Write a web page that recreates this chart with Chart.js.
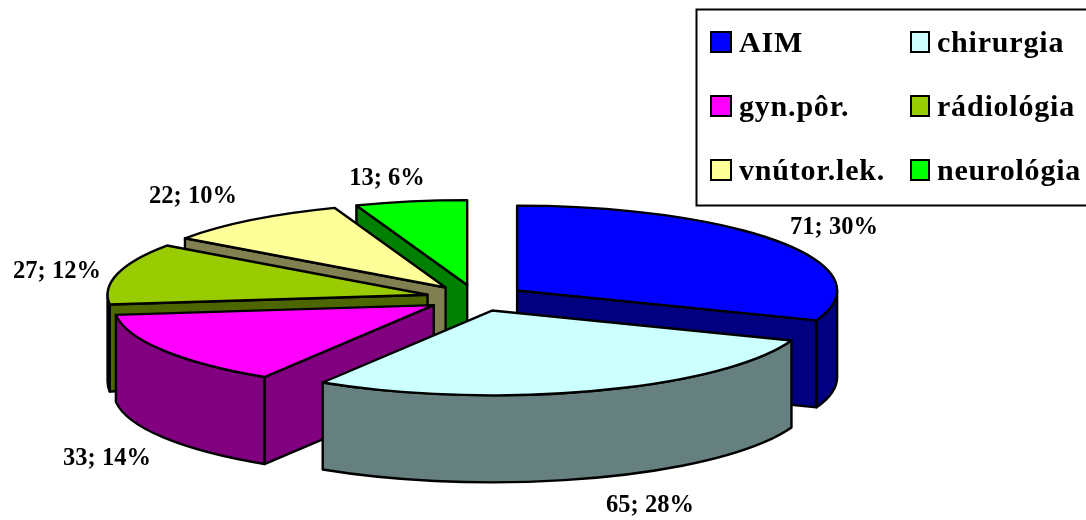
<!DOCTYPE html>
<html>
<head>
<meta charset="utf-8">
<style>html,body{margin:0;padding:0;background:#fff}#w{width:1086px;height:520px;position:relative}</style>
<script src="https://cdn.jsdelivr.net/npm/chart.js@4"></script>
</head>
<body>
<div id="w"><canvas id="c" width="1086" height="520"></canvas></div>
<script>
const categories = ["AIM", "chirurgia", "gyn.pôr.", "rádiológia", "vnútor.lek.", "neurológia"];
const counts = [71, 65, 33, 27, 22, 13];
const percents = [30, 28, 14, 12, 10, 6];
const topColors = ["#0000FF", "#CCFFFF", "#FF00FF", "#99CC00", "#FFFF99", "#00FF00"];
const wallColors = ["#000080", "#668080", "#800080", "#4D6600", "#808050", "#008000"];

// Layout of the fake 3D pie and its annotations
const TILT = 0.265, DEPTH = 87, EXPLODE = 50, RADIUS = 320;
const LABEL_FONT = "bold 24.5px 'Liberation Serif'";
const LEGEND_FONT = "bold 30px 'Liberation Serif'";
const labelAnchors = [[834,234],[650,512],[107,465],[57,278],[193,203],[387,185]];
const legendBox = {x:696.5, y:9.5, w:395, h:196};
const legendCols = [{sw:711, swW:20, tx:739},{sw:911, swW:18, tx:937}];
const legendRows = [42, 106, 170];
const legendBaselines = [52, 116, 180];

const pie3d = {
  id: 'pie3d',
  beforeDatasetsDraw(chart) {
    const ctx = chart.ctx;
    const arcs = chart.getDatasetMeta(0).data.map((arc, i) => {
      const m = (arc.startAngle + arc.endAngle) / 2;
      return {arc, i, m, ax: arc.x + EXPLODE * Math.cos(m), ay: arc.y + EXPLODE * TILT * Math.sin(m)};
    }).sort((a, b) => Math.sin(a.m) - Math.sin(b.m));
    ctx.save();
    ctx.lineJoin = 'round';
    ctx.lineWidth = 2.4;
    ctx.strokeStyle = '#000';
    for (const s of arcs) {
      const {arc, i, ax, ay} = s;
      const a0 = arc.startAngle, a1 = arc.endAngle, R = arc.outerRadius, ry = R * TILT;
      const pt = t => [ax + R * Math.cos(t), ay + ry * Math.sin(t)];
      ctx.fillStyle = wallColors[i];
      const quad = t => {
        const [px, py] = pt(t);
        ctx.beginPath();
        ctx.moveTo(ax, ay); ctx.lineTo(px, py); ctx.lineTo(px, py + DEPTH); ctx.lineTo(ax, ay + DEPTH);
        ctx.closePath(); ctx.fill(); ctx.stroke();
      };
      if (-Math.cos(a0) > 0) quad(a0);
      if (Math.cos(a1) > 0) quad(a1);
      const w0 = Math.max(a0, 0), w1 = Math.min(a1, Math.PI);
      if (w1 > w0) {
        ctx.beginPath();
        ctx.ellipse(ax, ay, R, ry, 0, w0, w1, false);
        ctx.ellipse(ax, ay + DEPTH, R, ry, 0, w1, w0, true);
        ctx.closePath(); ctx.fill(); ctx.stroke();
      }
      // top face, drawn by the library's arc element through a squashing transform
      ctx.save();
      ctx.translate(ax, ay); ctx.scale(1, TILT); ctx.translate(-arc.x, -arc.y);
      arc.draw(ctx);
      ctx.beginPath();
      ctx.moveTo(arc.x, arc.y);
      ctx.arc(arc.x, arc.y, R, a0, a1, false);
      ctx.closePath();
      ctx.restore();
      ctx.stroke();
    }
    ctx.restore();
    return false;
  },
  afterDraw(chart) {
    const ctx = chart.ctx;
    ctx.save();
    ctx.fillStyle = '#000';
    ctx.textBaseline = 'alphabetic';
    ctx.textAlign = 'center';
    ctx.font = LABEL_FONT;
    counts.forEach((v, i) => ctx.fillText(v + '; ' + percents[i] + '%', labelAnchors[i][0], labelAnchors[i][1]));
    ctx.textAlign = 'left';
    ctx.lineWidth = 2;
    ctx.strokeStyle = '#000';
    ctx.strokeRect(legendBox.x, legendBox.y, legendBox.w, legendBox.h);
    ctx.font = LEGEND_FONT;
    ctx.letterSpacing = '0.8px';
    categories.forEach((name, i) => {
      const col = legendCols[i % 2], row = Math.floor(i / 2), y = legendRows[row];
      const h = 20;
      ctx.fillStyle = topColors[i];
      ctx.fillRect(col.sw, y - h / 2, col.swW, h);
      ctx.strokeRect(col.sw, y - h / 2, col.swW, h);
      ctx.fillStyle = '#000';
      ctx.fillText(name, col.tx, legendBaselines[row]);
    });
    ctx.restore();
  }
};

new Chart(document.getElementById('c'), {
  type: 'pie',
  data: {
    labels: categories,
    datasets: [{ data: counts, backgroundColor: topColors, borderWidth: 0, clip: false }]
  },
  options: {
    responsive: false,
    animation: false,
    radius: RADIUS,
    layout: { padding: { left: 0, right: 134, top: 76, bottom: 0 } },
    plugins: { legend: { display: false }, tooltip: { enabled: false } }
  },
  plugins: [pie3d]
});
</script>
</body>
</html>
